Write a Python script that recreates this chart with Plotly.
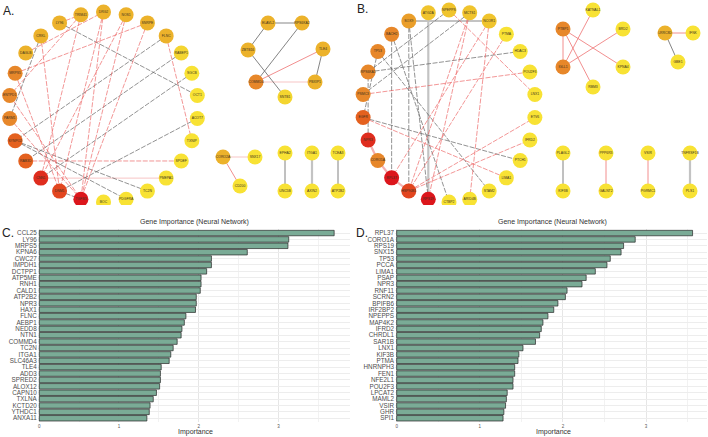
import math
import plotly.graph_objects as go

# ---------------- DATA ----------------
# Panel C
genes_c = ["CCL25", "LY96", "MRPS5", "KPNA6", "CWC27", "IMPDH1", "DCTPP1", "ATP5ME", "RNH1", "CALD1",
           "ATP2B2", "NPR3", "HAX1", "FLNC", "AEBP1", "NEDD8", "NTN1", "COMMD4", "TC2N", "ITGA1",
           "SLC46A3", "TLE4", "ADD3", "SPRED2", "ALOX12", "CAPN10", "TXLNA", "KCTD20", "YTHDC1", "ANXA11"]
imp_c = [3.70, 3.13, 3.12, 2.61, 2.16, 2.16, 2.10, 2.03, 2.03, 2.02,
         1.97, 1.97, 1.96, 1.84, 1.82, 1.79, 1.78, 1.73, 1.68, 1.65,
         1.63, 1.53, 1.52, 1.52, 1.51, 1.47, 1.43, 1.39, 1.38, 1.35]

# Panel D
genes_d = ["RPL37", "CORO1A", "RPS19", "SNX15", "TP53", "PCCA", "LIMA1", "PSAP", "NPR3", "RNF11",
           "SCRN2", "BPIFB6", "IRF2BP2", "NPEPPS", "MAP4K2", "IFRD2", "CHRDL1", "SAR1B", "LNX1", "KIF3B",
           "PTMA", "HNRNPH3", "FEN1", "NFE2L1", "POU2F3", "LPCAT2", "MAML2", "VSIR", "GHR", "SPI1"]
imp_d = [3.56, 2.87, 2.73, 2.70, 2.57, 2.53, 2.39, 2.28, 2.23, 2.05,
         2.03, 1.94, 1.89, 1.82, 1.76, 1.74, 1.72, 1.67, 1.52, 1.47,
         1.46, 1.42, 1.42, 1.40, 1.40, 1.33, 1.32, 1.31, 1.29, 1.28]

# Panel A network (circle ordered by degree)
a_nodes = ["TGFB3", "DNM1", "CNN1", "RAB3D", "SYNPO2", "PARM1", "ENTPD1", "MRPS5", "DAGLB", "CRKL",
           "LY96", "TRIM41", "DRG2", "NOS1", "SNRPE", "FLNC", "RABEP1", "SGCB", "OCT1", "ACOT7",
           "TXNIP", "SPDEF", "PMEPA1", "TC2N", "PDGFRA", "BOC"]
a_degree = [10, 8, 9, 7, 7, 6, 6, 6, 4, 4, 4, 4, 4, 4, 4, 4, 2, 1, 1, 1, 1, 1, 1, 1, 1, 1]
a_red = [("DRG2", "TGFB3"), ("NOS1", "TGFB3"), ("SNRPE", "TGFB3"), ("NOS1", "CNN1"), ("DRG2", "DNM1"),
         ("TRIM41", "ENTPD1"), ("SNRPE", "MRPS5"), ("FLNC", "TXNIP"), ("RAB3D", "SPDEF"),
         ("MRPS5", "DNM1"), ("PARM1", "TGFB3"), ("TRIM41", "CNN1"), ("DAGLB", "DRG2"),
         ("LY96", "TRIM41"), ("ENTPD1", "TGFB3"), ("CRKL", "DNM1")]
a_grey = [("LY96", "OCT1"), ("RABEP1", "RAB3D"), ("SGCB", "CNN1"), ("ACOT7", "DNM1"), ("FLNC", "SYNPO2"),
          ("CRKL", "PARM1"), ("SYNPO2", "TC2N"), ("SYNPO2", "PDGFRA"), ("DNM1", "TGFB3")]
a_pale = [("CNN1", "PMEPA1")]

a_sub_nodes = ["ELAVL2", "RPS6KA2", "ZBTB16", "TLE4", "COMMD4", "PBXIP1", "SNTB1",
               "CORO2A", "SNX17", "CD200", "EPHA2", "UNC5B", "ITGA1", "AXIN2", "TCEA3", "ATP2B2"]
a_sub_degree = [4, 4, 4, 4, 6, 4, 2, 4, 1, 1, 1, 1, 1, 1, 1, 1]
a_sub_grey = [("ELAVL2", "ZBTB16"), ("RPS6KA2", "COMMD4"), ("ZBTB16", "SNTB1"), ("TLE4", "PBXIP1"),
              ("EPHA2", "UNC5B"), ("TCEA3", "ATP2B2")]
a_sub_thick = [("ELAVL2", "RPS6KA2"), ("ITGA1", "AXIN2")]
a_sub_red = [("COMMD4", "TLE4"), ("CORO2A", "CD200")]
a_sub_pale = [("COMMD4", "PBXIP1"), ("CORO2A", "SNX17")]

# Panel B network
b_nodes = ["RPS19", "HSP90B1", "RPL37", "CORO1A", "NPR3", "EGFR", "PSMC3", "RPS6KA1", "TP53", "BACH2",
           "SOX9", "ATG2A", "NPEPPS", "MCTS1", "NCOR1", "PTMA", "HDAC3", "POU2F3", "LNX1", "ETV6",
           "IFRD2", "PTCH1", "LIMA1", "STAM2", "ARID4B", "CTBP2"]
b_degree = [10, 8, 10, 6, 9, 7, 6, 6, 6, 6, 5, 3, 3, 3, 3, 1, 1, 1, 1, 1, 1, 1, 1, 1, 1, 1]
b_red = [("NCOR1", "RPL37"), ("NPEPPS", "LNX1"), ("MCTS1", "HSP90B1"), ("PTMA", "HSP90B1"),
         ("EGFR", "LIMA1"), ("PSMC3", "POU2F3"), ("HSP90B1", "ETV6"), ("HSP90B1", "IFRD2"),
         ("NCOR1", "ARID4B"), ("MCTS1", "RPS19")]
b_grey = [("RPS6KA1", "HDAC3"), ("EGFR", "PTCH1"), ("TP53", "STAM2"), ("BACH2", "CTBP2"),
          ("SOX9", "HSP90B1"), ("TP53", "EGFR"), ("MCTS1", "PSMC3"), ("NPEPPS", "RPS6KA1"),
          ("BACH2", "RPL37"), ("SOX9", "RPS19"), ("NPR3", "RPS6KA1")]
b_thick = [("ATG2A", "RPS19"), ("SOX9", "NCOR1")]
b_pink = [("NPR3", "CORO1A"), ("CORO1A", "RPL37"), ("RPL37", "HSP90B1")]

b_sub_nodes = ["KATNAL1", "PTBP1", "BRD2", "IGLL1", "KPNA4", "RBM3", "LRRC8D", "IFNK", "GBE1",
               "PLAGL2", "KIF3B", "PPP6R3", "GALNT2", "VSIR", "PGRMC1", "TNFRSF1B", "PLS1"]
b_sub_degree = [1, 6, 1, 6, 1, 1, 4, 1, 1, 1, 1, 1, 1, 1, 1, 1, 1]
b_sub_red = [("PTBP1", "IGLL1"), ("PTBP1", "KPNA4"), ("PTBP1", "RBM3"), ("IGLL1", "KATNAL1"),
             ("IGLL1", "BRD2"), ("LRRC8D", "IFNK"), ("PPP6R3", "GALNT2"), ("VSIR", "PGRMC1")]
b_sub_grey = [("LRRC8D", "GBE1"), ("PLAGL2", "KIF3B")]
b_sub_thick = [("TNFRSF1B", "PLS1")]

# ---------------- LAYOUT (pixel space of the top half) ----------------
def circle_layout(names, cx, cy, rx, ry):
    n = len(names)
    pos = {}
    for k, nm in enumerate(names):
        a = math.pi / 2 + (k + 1) * 2 * math.pi / n
        pos[nm] = (cx + rx * math.cos(a), cy + ry * math.sin(a))
    return pos

pos = {}
pos.update(circle_layout(a_nodes, 103.5, 107, 94.5, 95))
pos.update(circle_layout(b_nodes, 449, 106, 86.5, 96))
sub_layout = {
    "ELAVL2": (268, 23), "RPS6KA2": (302, 23), "ZBTB16": (248, 50), "TLE4": (323, 49),
    "COMMD4": (256, 82), "PBXIP1": (315, 82), "SNTB1": (285, 97),
    "CORO2A": (223, 157), "SNX17": (255, 157), "CD200": (240, 186),
    "EPHA2": (285, 153), "UNC5B": (285, 191), "ITGA1": (312, 153), "AXIN2": (312, 191),
    "TCEA3": (338, 153), "ATP2B2": (338, 191),
    "KATNAL1": (593, 10), "PTBP1": (563, 29), "BRD2": (623, 29), "IGLL1": (563, 67),
    "KPNA4": (623, 67), "RBM3": (593, 87), "LRRC8D": (665, 33), "IFNK": (693, 33), "GBE1": (678, 62),
    "PLAGL2": (563, 153), "KIF3B": (563, 191), "PPP6R3": (606, 153), "GALNT2": (606, 191),
    "VSIR": (648, 153), "PGRMC1": (648, 191), "TNFRSF1B": (690, 153), "PLS1": (690, 191),
}
pos.update(sub_layout)

FONT = "Liberation Sans, Arial, sans-serif"
fig = go.Figure()

def edge_trace(edges, color, width, dash="solid", opacity=1.0):
    xs, ys = [], []
    for u, v in edges:
        xs += [pos[u][0], pos[v][0], None]
        ys += [pos[u][1], pos[v][1], None]
    return go.Scatter(x=xs, y=ys, mode="lines", line=dict(color=color, width=width, dash=dash),
                      opacity=opacity, hoverinfo="skip", showlegend=False, xaxis="x", yaxis="y")

RED = "#ec5a5a"
GREY = "#4a4a4a"
DASH = "5px,1.5px"
for tr in [
    edge_trace(a_pale + a_sub_pale, "#f5a5a5", 0.8, "solid", 0.8),
    edge_trace(b_pink, "#f3a0a0", 2.2, "solid", 0.8),
    edge_trace(b_thick + a_sub_thick + b_sub_thick, "#bdbdbd", 2.2, "solid", 0.9),
    edge_trace(a_grey + b_grey, GREY, 0.7, DASH, 0.85),
    edge_trace(a_sub_grey + b_sub_grey, GREY, 0.8, "solid", 0.85),
    edge_trace(a_red + b_red, RED, 0.7, DASH, 0.9),
    edge_trace(a_sub_red + b_sub_red, RED, 0.8, "solid", 0.85),
]:
    fig.add_trace(tr)

cscale = [[0.0, "#f8e234"], [1/9, "#f4d530"], [2/9, "#f0c42d"], [3/9, "#ecb22b"], [4/9, "#ea9e2a"],
          [5/9, "#e7872a"], [6/9, "#e4611f"], [7/9, "#e2461f"], [8/9, "#df2d1e"], [1.0, "#dc161c"]]

def node_trace(names, degree):
    return go.Scatter(
        x=[pos[n][0] for n in names], y=[pos[n][1] for n in names], mode="markers+text",
        text=names, textposition="middle center",
        textfont=dict(size=3.4, color="#3a3020", family=FONT),
        marker=dict(size=15, color=degree, colorscale=cscale, cmin=1, cmax=10, line=dict(width=0)),
        hoverinfo="text", showlegend=False, xaxis="x", yaxis="y")

fig.add_trace(node_trace(a_nodes, a_degree))
fig.add_trace(node_trace(a_sub_nodes, a_sub_degree))
fig.add_trace(node_trace(b_nodes, b_degree))
fig.add_trace(node_trace(b_sub_nodes, b_sub_degree))

# ---------------- BAR CHARTS ----------------
BAR = "#7aab96"
fig.add_trace(go.Bar(x=imp_c, y=genes_c, orientation="h", width=0.86,
                     marker=dict(color=BAR, line=dict(color="#262626", width=0.7)),
                     showlegend=False, xaxis="x2", yaxis="y2"))
fig.add_trace(go.Bar(x=imp_d, y=genes_d, orientation="h", width=0.86,
                     marker=dict(color=BAR, line=dict(color="#262626", width=0.7)),
                     showlegend=False, xaxis="x3", yaxis="y3"))

W, H = 708, 437
def py(p):  # pixel y -> paper
    return 1 - p / H

bar_y_dom = [py(422.1), py(229.2)]
xax_common = dict(showgrid=True, gridcolor="#e6e6e6", gridwidth=0.6, zeroline=False,
                  tickvals=[0, 1, 2, 3], ticks="", tickfont=dict(size=4.5, color="#555555", family=FONT),
                  minor=dict(dtick=0.5, showgrid=True, gridcolor="#f2f2f2", gridwidth=0.5),
                  showline=False, fixedrange=True)
yax_common = dict(showgrid=True, gridcolor="#ededed", gridwidth=0.5, ticks="", dtick=1,
                  tickfont=dict(size=6.3, color="#4d4d4d", family=FONT), range=[29.6, -0.6],
                  showline=False, fixedrange=True)

fig.update_layout(
    width=W, height=H, margin=dict(l=0, r=0, t=0, b=0),
    paper_bgcolor="white", plot_bgcolor="white", bargap=0.1,
    xaxis=dict(domain=[0, 1], range=[0, W], visible=False, fixedrange=True),
    yaxis=dict(domain=[py(205), 1], range=[205, 0], visible=False, fixedrange=True),
    xaxis2=dict(domain=[37.7 / W, 350.1 / W], range=[-0.02, 3.9], anchor="y2", **xax_common),
    yaxis2=dict(domain=bar_y_dom, anchor="x2", **yax_common),
    xaxis3=dict(domain=[395.0 / W, 706.7 / W], range=[-0.02, 3.73], anchor="y3", **xax_common),
    yaxis3=dict(domain=bar_y_dom, anchor="x3", **yax_common),
    font=dict(family=FONT),
)

ann = []
for txt, x, y, size in [("A.", 1, 11, 12), ("B.", 355, 9, 12), ("C.", 0, 233, 12), ("D.", 354, 233, 12)]:
    ann.append(dict(text=txt, x=x / W, y=py(y), xref="paper", yref="paper", xanchor="left",
                    yanchor="middle", showarrow=False, font=dict(size=size, color="#222222", family=FONT)))
for cx in [194.5, 552]:
    ann.append(dict(text="Gene Importance (Neural Network)", x=cx / W, y=py(222), xref="paper", yref="paper",
                    xanchor="center", yanchor="middle", showarrow=False,
                    font=dict(size=7, color="#333333", family=FONT)))
for cx in [195, 553]:
    ann.append(dict(text="Importance", x=cx / W, y=py(432), xref="paper", yref="paper",
                    xanchor="center", yanchor="middle", showarrow=False,
                    font=dict(size=7, color="#333333", family=FONT)))
fig.update_layout(annotations=ann)

fig.write_html("out.html", config={"displayModeBar": False},
               post_script="document.body.style.margin='0px';document.body.style.overflow='hidden';")
